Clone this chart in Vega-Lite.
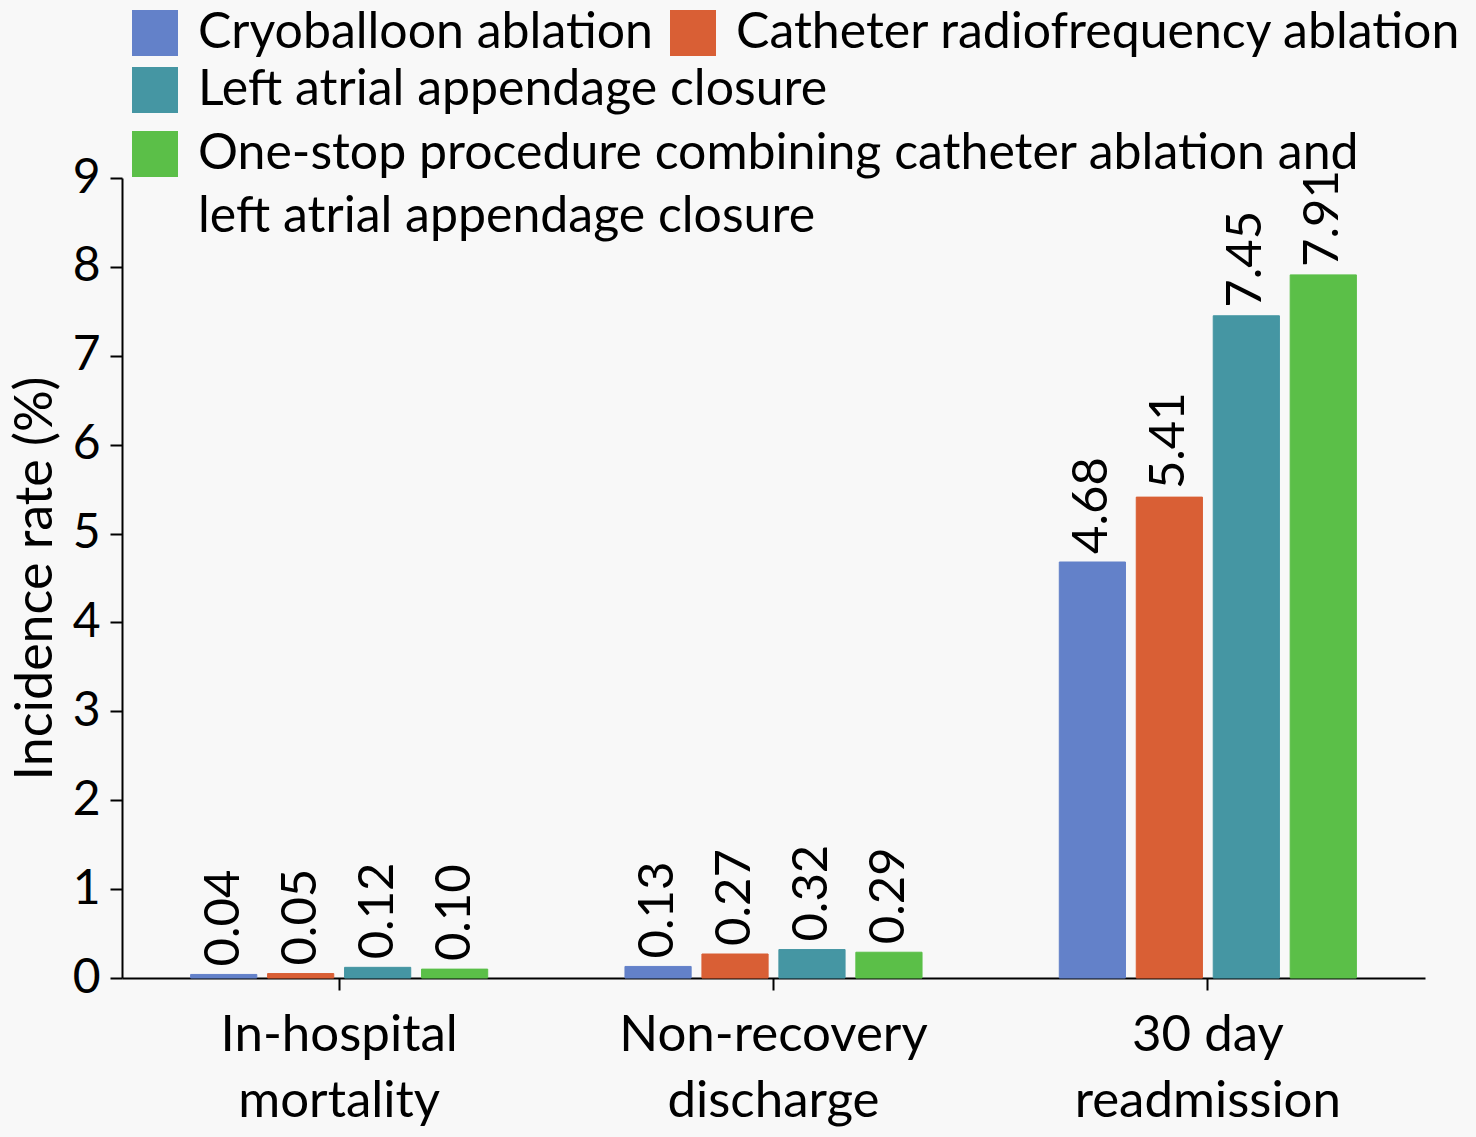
{
  "$schema": "https://vega.github.io/schema/vega-lite/v6.json",
  "width": 1303,
  "height": 800,
  "autosize": {"type": "none"},
  "padding": {"left": 122, "top": 178, "right": 51, "bottom": 159},
  "background": "#f8f8f8",
  "config": {
    "view": {"stroke": null},
    "font": "Lato",
    "style": {"guide-label": {"lineHeight": 63}}
  },
  "data": {
    "values": [
      {"outcome": "In-hospital mortality", "procedure": "Cryoballoon ablation", "value": 0.04},
      {"outcome": "In-hospital mortality", "procedure": "Catheter radiofrequency ablation", "value": 0.05},
      {"outcome": "In-hospital mortality", "procedure": "Left atrial appendage closure", "value": 0.12},
      {"outcome": "In-hospital mortality", "procedure": "One-stop procedure combining catheter ablation and left atrial appendage closure", "value": 0.10},
      {"outcome": "Non-recovery discharge", "procedure": "Cryoballoon ablation", "value": 0.13},
      {"outcome": "Non-recovery discharge", "procedure": "Catheter radiofrequency ablation", "value": 0.27},
      {"outcome": "Non-recovery discharge", "procedure": "Left atrial appendage closure", "value": 0.32},
      {"outcome": "Non-recovery discharge", "procedure": "One-stop procedure combining catheter ablation and left atrial appendage closure", "value": 0.29},
      {"outcome": "30 day readmission", "procedure": "Cryoballoon ablation", "value": 4.68},
      {"outcome": "30 day readmission", "procedure": "Catheter radiofrequency ablation", "value": 5.41},
      {"outcome": "30 day readmission", "procedure": "Left atrial appendage closure", "value": 7.45},
      {"outcome": "30 day readmission", "procedure": "One-stop procedure combining catheter ablation and left atrial appendage closure", "value": 7.91}
    ]
  },
  "encoding": {
    "x": {
      "field": "outcome",
      "type": "nominal",
      "sort": ["In-hospital mortality", "Non-recovery discharge", "30 day readmission"],
      "scale": {"paddingInner": 0.316, "paddingOuter": 0.158},
      "axis": {
        "title": null,
        "labelAngle": 0,
        "labelFontSize": 51,
        "labelColor": "black",
        "labelPadding": 20,
        "labelLineHeight": 66,
        "labelBaseline": "top",
        "labelLimit": 600,
        "labelExpr": "datum.value == '30 day readmission' ? ['30 day', 'readmission'] : split(datum.value, ' ')",
        "domainColor": "black",
        "domainWidth": 2,
        "tickColor": "black",
        "tickWidth": 2,
        "tickSize": 12
      }
    },
    "xOffset": {
      "field": "procedure",
      "type": "nominal",
      "sort": ["Cryoballoon ablation", "Catheter radiofrequency ablation", "Left atrial appendage closure", "One-stop procedure combining catheter ablation and left atrial appendage closure"],
      "scale": {"paddingInner": 0.14, "paddingOuter": 0}
    },
    "y": {
      "field": "value",
      "type": "quantitative",
      "scale": {"domain": [0, 9], "nice": false},
      "axis": {
        "title": "Incidence rate (%)",
        "titleFontSize": 52,
        "titleFontWeight": "normal",
        "titleColor": "black",
        "titlePadding": 10,
        "values": [0, 1, 2, 3, 4, 5, 6, 7, 8, 9],
        "grid": false,
        "labelFontSize": 48,
        "labelColor": "black",
        "labelPadding": 10,
        "domainColor": "black",
        "domainWidth": 2,
        "tickColor": "black",
        "tickWidth": 2,
        "tickSize": 12
      }
    }
  },
  "layer": [
    {
      "mark": {"type": "bar"},
      "encoding": {
        "color": {
          "field": "procedure",
          "type": "nominal",
          "scale": {
            "domain": ["Cryoballoon ablation", "Catheter radiofrequency ablation", "Left atrial appendage closure", "One-stop procedure combining catheter ablation and left atrial appendage closure"],
            "range": ["#6381C9", "#D95F35", "#4596A3", "#5BBF48"]
          },
          "legend": {
            "title": null,
            "orient": "none",
            "legendX": 8,
            "legendY": -170,
            "direction": "horizontal",
            "values": ["Cryoballoon ablation", "Catheter radiofrequency ablation"],
            "symbolType": "square",
            "symbolSize": 2116,
            "symbolStrokeWidth": 0,
            "labelFontSize": 50,
            "labelColor": "black",
            "labelOffset": 18,
            "columnPadding": 15,
            "labelLimit": 1400,
            "padding": 0
          }
        },
        "stroke": {
          "field": "procedure",
          "type": "nominal",
          "scale": {
            "domain": ["Left atrial appendage closure", "Cryoballoon ablation", "Catheter radiofrequency ablation", "One-stop procedure combining catheter ablation and left atrial appendage closure"],
            "range": ["#4596A3", "#6381C9", "#D95F35", "#5BBF48"]
          },
          "legend": {
            "title": null,
            "orient": "none",
            "legendX": 8,
            "legendY": -113,
            "values": ["Left atrial appendage closure"],
            "symbolType": "square",
            "symbolSize": 2116,
            "symbolStrokeWidth": 0,
            "symbolFillColor": "#4596A3",
            "labelFontSize": 50,
            "labelColor": "black",
            "labelOffset": 18,
            "labelLimit": 1400,
            "padding": 0
          }
        },
        "opacity": {
          "field": "procedure",
          "type": "nominal",
          "scale": {
            "domain": ["One-stop procedure combining catheter ablation and left atrial appendage closure", "Left atrial appendage closure", "Cryoballoon ablation", "Catheter radiofrequency ablation"],
            "range": [1, 1, 1, 1]
          },
          "legend": {
            "title": null,
            "orient": "none",
            "legendX": 8,
            "legendY": -49,
            "values": ["One-stop procedure combining catheter ablation and left atrial appendage closure"],
            "symbolType": "square",
            "symbolSize": 2116,
            "symbolStrokeWidth": 0,
            "symbolFillColor": "#5BBF48",
            "symbolOpacity": 1,
            "labelFontSize": 50,
            "labelColor": "black",
            "labelOffset": 18,
            "labelLimit": 1400,
            "labelExpr": "['One-stop procedure combining catheter ablation and', 'left atrial appendage closure']",
            "padding": 0
          }
        }
      }
    },
    {
      "mark": {"type": "text", "angle": 270, "align": "left", "baseline": "middle", "dx": 8, "fontSize": 49, "color": "black"},
      "encoding": {
        "text": {"field": "value", "type": "quantitative", "format": ".2f"}
      }
    }
  ]
}
